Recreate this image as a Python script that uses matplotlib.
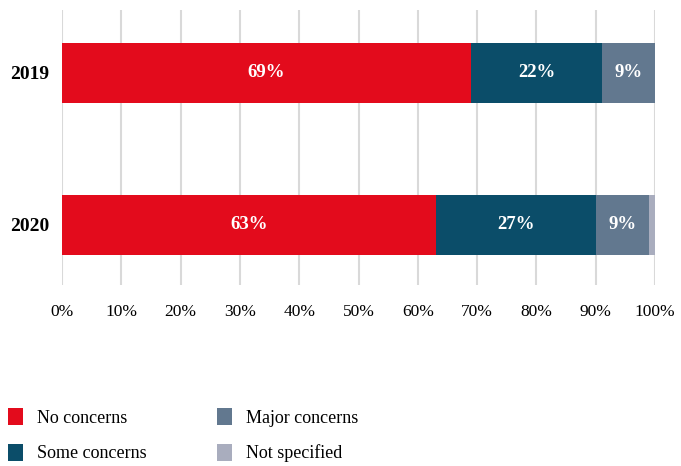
import matplotlib
matplotlib.use("Agg")
import matplotlib.pyplot as plt
from matplotlib.patches import Patch

years = ["2019", "2020"]
categories = ["No concerns", "Some concerns", "Major concerns", "Not specified"]
no_concerns = [69, 63]
some_concerns = [22, 27]
major_concerns = [9, 9]
not_specified = [0, 1]
colors = ["#E30B1C", "#0B4D69", "#62788F", "#A9ADBE"]
x_ticks = list(range(0, 101, 10))

plt.rcParams["font.family"] = ["Liberation Serif", "DejaVu Serif"]

fig = plt.figure(figsize=(6.81, 4.66), dpi=100)
ax = fig.add_axes([62 / 681, 1 - 285 / 466, 593 / 681, 275 / 466])

series = [no_concerns, some_concerns, major_concerns, not_specified]
ypos = list(range(len(years)))
left = [0] * len(years)
for vals, col in zip(series, colors):
    bars = ax.barh(ypos, vals, left=left, height=0.395, color=col,
                   edgecolor="none", zorder=3)
    for rect, v in zip(bars, vals):
        if v >= 5:
            ax.text(rect.get_x() + rect.get_width() / 2,
                    rect.get_y() + rect.get_height() / 2,
                    f"{v}%", ha="center", va="center", color="white",
                    fontsize=13.5, fontweight="bold", zorder=4)
    left = [l + v for l, v in zip(left, vals)]

ax.set_xlim(0, 100)
ax.set_ylim(1.395, -0.414)
ax.set_xticks(x_ticks)
ax.set_xticklabels([f"{t}%" for t in x_ticks], fontsize=12.5)
ax.set_yticks(ypos)
ax.set_yticklabels(years, fontsize=14, fontweight="bold")
ax.tick_params(axis="both", length=0)
ax.tick_params(axis="x", pad=14)
ax.tick_params(axis="y", pad=9)
ax.xaxis.grid(True, color="#D9D9D9", linewidth=1.5, zorder=0)
ax.set_axisbelow(True)
for s in ax.spines.values():
    s.set_visible(False)

handles = [Patch(facecolor=c, edgecolor="none") for c in colors]
fig.legend(handles, categories, ncol=2, loc="upper left",
           bbox_to_anchor=(0.0, 1 - 400 / 466), frameon=False,
           fontsize=13, handlelength=0.85, handleheight=1.05,
           handletextpad=0.75, columnspacing=3.9, labelspacing=0.95,
           borderaxespad=0.0, borderpad=0.45)

fig.savefig("out.png", dpi=100)
